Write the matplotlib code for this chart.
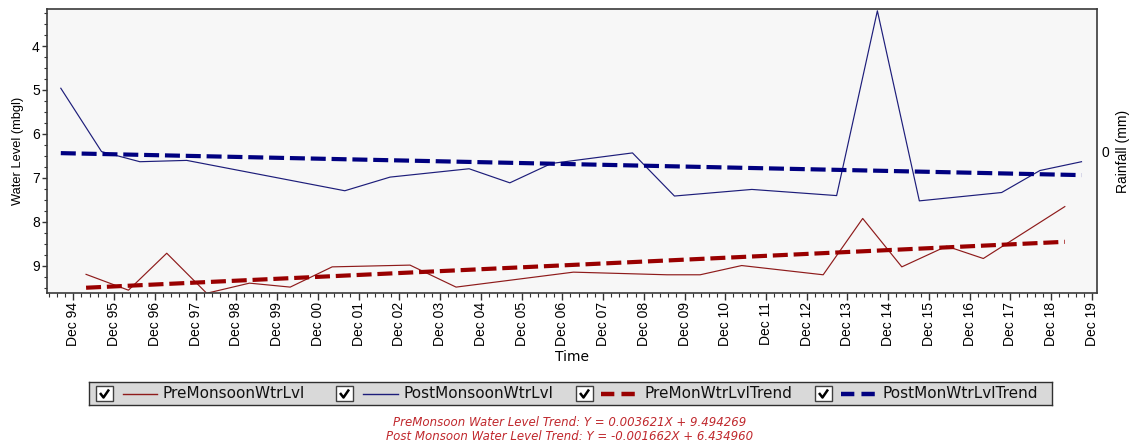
import numpy as np
import matplotlib
matplotlib.use("Agg")
import matplotlib.pyplot as plt
from matplotlib.ticker import FixedLocator, MultipleLocator
from matplotlib.patches import Rectangle

plt.rcParams["font.family"] = ["Liberation Sans", "DejaVu Sans"]

# Pre-monsoon observations (decimal years) and water level (m below ground)
pre_time = [1995.23, 1996.27, 1997.21, 1998.19, 1999.24, 2000.24, 2001.27,
            2003.18, 2004.31, 2007.19, 2009.49, 2010.30, 2011.32, 2013.32,
            2014.29, 2015.25, 2016.35, 2017.25, 2019.25]
pre_level = [9.19, 9.55, 8.71, 9.62, 9.39, 9.48, 9.02,
             8.98, 9.48, 9.14, 9.20, 9.20, 8.99, 9.20,
             7.92, 9.02, 8.55, 8.83, 7.65]

# Post-monsoon observations
post_time = [1994.61, 1995.61, 1996.55, 1997.70, 2001.58, 2002.69, 2004.63,
             2005.63, 2006.65, 2008.64, 2009.67, 2011.57, 2013.65, 2014.65,
             2015.68, 2017.70, 2018.64, 2019.66]
post_level = [4.96, 6.40, 6.63, 6.60, 7.29, 6.98, 6.79,
              7.11, 6.67, 6.43, 7.41, 7.26, 7.40, 3.20,
              7.52, 7.33, 6.83, 6.63]

# Linear trends, X in months from the first observation of each series
pre_slope, pre_intercept = 0.003621, 9.494269
post_slope, post_intercept = -0.001662, 6.434960

tick_years = list(range(1994, 2020))
tick_labels = [f"Dec {y % 100:02d}" for y in tick_years]

legend_labels = ["PreMonsoonWtrLvl", "PostMonsoonWtrLvl",
                 "PreMonWtrLvlTrend", "PostMonWtrLvlTrend"]

PRE_COLOR = "#8e1b1b"
POST_COLOR = "#1d1d7a"
PRE_TREND = "#990000"
POST_TREND = "#000080"
TREND_DASH = (0, (3.6, 1.4))

W, H = 1138, 448
fig = plt.figure(figsize=(W / 100, H / 100), dpi=100, facecolor="white")


def box(x0, y0, x1, y1):
    return [x0 / W, 1 - y1 / H, (x1 - x0) / W, (y1 - y0) / H]


ax = fig.add_axes(box(46.7, 9, 1097, 293))
ax.set_facecolor("#f7f7f7")

ax.plot(pre_time, pre_level, color=PRE_COLOR, lw=0.85, zorder=2)
ax.plot(post_time, post_level, color=POST_COLOR, lw=0.85, zorder=2)

# The reported slope is a rise of the water table, so depth falls by it
pre_t = np.array(pre_time)
pre_months = (pre_t - pre_t[0]) * 12
pre_trend = pre_intercept - pre_slope * pre_months
post_t = np.array(post_time)
post_months = (post_t - post_t[0]) * 12
post_trend = post_intercept - post_slope * post_months

ax.plot(pre_t, pre_trend, color=PRE_TREND, lw=3.0, ls=TREND_DASH,
        dash_capstyle="butt", zorder=3)
ax.plot(post_t, post_trend, color=POST_TREND, lw=3.0, ls=TREND_DASH,
        dash_capstyle="butt", zorder=3)

ax.set_xlim(1994.264, 2020.04)
ax.set_ylim(9.614, 3.159)

major = [y + 11 / 12 for y in tick_years]
ax.xaxis.set_major_locator(FixedLocator(major))
ax.set_xticklabels(tick_labels, rotation=90)
minor = [m + k * 0.2 for m in [major[0] - 1] + major for k in range(1, 5)]
ax.xaxis.set_minor_locator(FixedLocator(minor))

ax.set_yticks([4, 5, 6, 7, 8, 9])
ax.yaxis.set_minor_locator(MultipleLocator(0.25))

ax.tick_params(axis="x", which="major", direction="out", length=5, width=1,
               pad=1.5, labelsize=10, color="#333333")
ax.tick_params(axis="x", which="minor", direction="out", length=2.8,
               width=0.8, color="#333333")
ax.tick_params(axis="y", which="major", direction="out", length=3.5,
               width=1, pad=1.5, labelsize=10, color="#333333")
ax.tick_params(axis="y", which="minor", direction="out", length=2.5,
               width=0.8, color="#333333")

for s in ax.spines.values():
    s.set_color("#3a3a3a")
    s.set_linewidth(1.2)

ax.set_ylabel("Water Level (mbgl)", fontsize=9.3, va="center")
ax.yaxis.set_label_coords((18.3 - 46.7) / 1050.3, 0.5)
ax.set_xlabel("Time", fontsize=10, family="DejaVu Sans", va="center")
ax.xaxis.set_label_coords(0.5, -(356.7 - 293) / 284)

ax2 = ax.twinx()
ax2.set_ylim(-1, 1)
ax2.set_yticks([0])
ax2.tick_params(axis="y", length=0, pad=3, labelsize=10)
ax2.set_ylabel("Rainfall (mm)", fontsize=10, va="center")
ax2.yaxis.set_label_coords((1123 - 46.7) / 1050.3, 0.5)
for s in ax2.spines.values():
    s.set_visible(False)

# Legend strip with check boxes
lg = fig.add_axes(box(89, 382, 1052, 405))
lg.set_xlim(0, 963)
lg.set_ylim(23, 0)
lg.set_facecolor("#d9d9d9")
lg.set_xticks([])
lg.set_yticks([])
for s in lg.spines.values():
    s.set_color("#303030")
    s.set_linewidth(1)

entries = [
    (7, 34, 68, 74, PRE_COLOR, False),
    (247, 274, 309, 314, POST_COLOR, False),
    (487, 512, 546, 555, PRE_TREND, True),
    (726, 752, 786, 793, POST_TREND, True),
]
for (cx, lx0, lx1, tx, col, dashed), label in zip(entries, legend_labels):
    lg.add_patch(Rectangle((cx, 4), 17, 15, facecolor="white",
                           edgecolor="#404040", lw=1))
    lg.plot([cx + 4, cx + 7.5, cx + 13], [11, 15.5, 7.5], color="black",
            lw=1.8, solid_capstyle="butt")
    if dashed:
        lg.plot([lx0, lx1], [11.5, 11.5], color=col, lw=3.2,
                ls=(0, (3, 1.6)), dash_capstyle="butt")
    else:
        lg.plot([lx0, lx1], [11.5, 11.5], color=col, lw=1)
    lg.text(tx, 12, label, va="center", ha="left", fontsize=11,
            family="DejaVu Sans", color="#111111")

eq_pre = f"PreMonsoon Water Level Trend: Y = {pre_slope:.6f}X + {pre_intercept:.6f}"
eq_post = f"Post Monsoon Water Level Trend: Y = {post_slope:.6f}X + {post_intercept:.6f}"
fig.text(570 / W, 1 - 422 / H, eq_pre, ha="center", va="center",
         fontsize=8.5, style="italic", color="#c0282d", family="DejaVu Sans")
fig.text(570 / W, 1 - 436 / H, eq_post, ha="center", va="center",
         fontsize=8.5, style="italic", color="#c0282d", family="DejaVu Sans")

fig.savefig("out.png", dpi=100, facecolor="white")
